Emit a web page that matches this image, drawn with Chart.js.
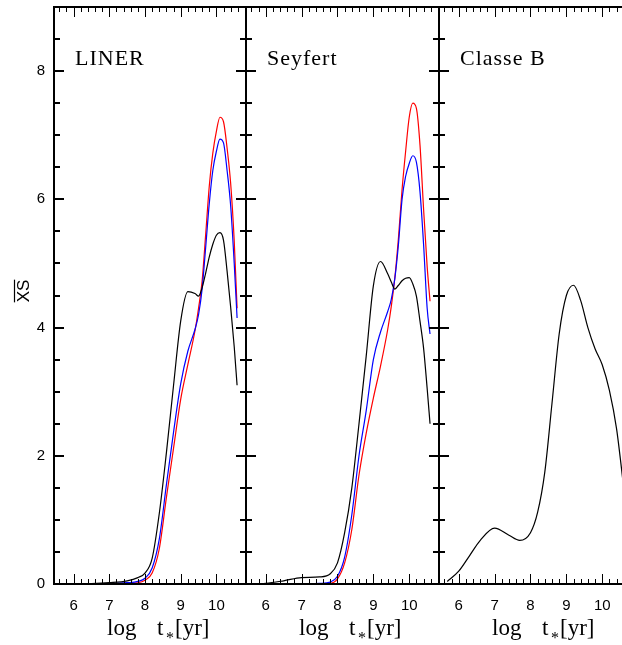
<!DOCTYPE html>
<html>
<head>
<meta charset="utf-8">
<title>xs vs log t</title>
<script src="https://cdn.jsdelivr.net/npm/chart.js@4.4.1/dist/chart.umd.min.js"></script>
<style>
  html, body { margin: 0; padding: 0; background: #fff; }
  body { width: 622px; height: 645px; position: relative; overflow: hidden; }
  .panel { position: absolute; top: 0; height: 645px; }
</style>
</head>
<body>
<div class="panel" style="left:0;width:250px"><canvas id="panelLiner"></canvas></div>
<div class="panel" style="left:242px;width:201px"><canvas id="panelSeyfert"></canvas></div>
<div class="panel" style="left:435px;width:201px"><canvas id="panelClasseB"></canvas></div>

<script>
// x values (log age) shared by LINER and Seyfert curves
const ageGrid = [5.5, 6, 6.5, 7, 7.5, 7.8, 8, 8.2, 8.4, 8.6, 8.8, 9, 9.2, 9.4, 9.5, 9.6, 9.7, 9.8, 9.9, 10, 10.1, 10.2, 10.3, 10.4, 10.5, 10.58];

// LINER panel
const linerBlack = [0, 0, 0.005, 0.02, 0.05, 0.1, 0.17, 0.4, 1.1, 2.05, 3.1, 4.1, 4.56, 4.53, 4.49, 4.62, 4.85, 5.1, 5.3, 5.44, 5.48, 5.36, 4.88, 4.32, 3.7, 3.1];
const linerBlue  = [0, 0, 0, 0.005, 0.02, 0.04, 0.09, 0.25, 0.7, 1.55, 2.37, 3.12, 3.63, 3.97, 4.2, 4.6, 5.25, 5.93, 6.45, 6.75, 6.94, 6.88, 6.45, 5.9, 5.0, 4.15];
const linerRed   = [0, 0, 0, 0.003, 0.01, 0.02, 0.06, 0.17, 0.55, 1.35, 2.12, 2.88, 3.42, 3.95, 4.3, 4.72, 5.45, 6.2, 6.72, 7.06, 7.28, 7.21, 6.8, 6.25, 5.35, 4.3];

// Seyfert panel
const seyfertBlack = [0, 0.01, 0.05, 0.1, 0.11, 0.16, 0.33, 0.8, 1.5, 2.5, 3.55, 4.65, 5.03, 4.84, 4.71, 4.6, 4.66, 4.73, 4.77, 4.78, 4.68, 4.49, 4.1, 3.68, 3.05, 2.5];
const seyfertBlue  = [0, 0, 0, 0, 0.01, 0.03, 0.12, 0.42, 1.08, 2.0, 2.7, 3.5, 3.93, 4.25, 4.44, 4.77, 5.3, 6.0, 6.36, 6.56, 6.68, 6.58, 6.12, 5.3, 4.3, 3.9];
const seyfertRed   = [0, 0, 0, 0, 0.005, 0.01, 0.08, 0.33, 0.85, 1.7, 2.35, 2.9, 3.4, 3.97, 4.33, 4.78, 5.4, 6.15, 6.75, 7.28, 7.5, 7.42, 6.85, 5.85, 4.95, 4.41];

// Classe B panel has its own sampling
const classeBAge = [5.68, 6, 6.3, 6.6, 7, 7.4, 7.7, 8, 8.2, 8.4, 8.6, 8.8, 9, 9.2, 9.4, 9.6, 9.8, 10, 10.2, 10.4, 10.6];
const classeBBlack = [0.04, 0.2, 0.44, 0.68, 0.87, 0.76, 0.68, 0.8, 1.12, 1.75, 2.82, 3.9, 4.5, 4.66, 4.42, 4.0, 3.67, 3.42, 3.02, 2.42, 1.5];

// axes
const xMin = 5.45, xMax = 10.83;
const yMin = 0, yMax = 9;
const xTickLabels = [6, 7, 8, 9, 10];
const yTickLabels = [0, 2, 4, 6, 8];

const tickFont = { family: "'Liberation Sans', Arial, sans-serif", size: 15 };
const serif = "'Liberation Serif', 'DejaVu Serif', serif";

function points(xs, ys) {
    return xs.map((x, i) => ({ x: x, y: ys[i] }));
}

function line(xs, ys, color) {
    return {
        data: points(xs, ys),
        borderColor: color,
        borderWidth: 1.2,
        pointRadius: 0,
        fill: false,
        cubicInterpolationMode: 'monotone'
    };
}

// box around the plot area plus inward pointing ticks on all four sides
const framePlugin = {
    id: 'frame',
    afterDatasetsDraw(chart) {
        const { ctx, chartArea: a, scales: { x, y } } = chart;
        ctx.save();
        ctx.strokeStyle = '#000';

        ctx.lineWidth = 1;
        ctx.beginPath();
        for (let i = Math.ceil(xMin * 5); i <= Math.floor(xMax * 5); i++) {
            const len = i % 5 === 0 ? 10 : 5;
            const px = Math.round(x.getPixelForValue(i / 5)) + 0.5;
            ctx.moveTo(px, a.bottom); ctx.lineTo(px, a.bottom - len);
            ctx.moveTo(px, a.top); ctx.lineTo(px, a.top + len);
        }
        ctx.stroke();

        ctx.lineWidth = 2;
        ctx.beginPath();
        for (let i = 1; i < yMax * 2; i++) {
            const len = i % 4 === 0 ? 10 : 6;
            const py = Math.round(y.getPixelForValue(i / 2));
            ctx.moveTo(a.left, py); ctx.lineTo(a.left + len, py);
            ctx.moveTo(a.right, py); ctx.lineTo(a.right - len, py);
        }
        ctx.stroke();

        ctx.lineWidth = 2;
        ctx.strokeRect(a.left, a.top, a.right - a.left, a.bottom - a.top);
        ctx.restore();
    }
};

// panel name inside the box and the "log t*[yr]" title under the axis
const labelPlugin = {
    id: 'labels',
    afterDraw(chart, args, opts) {
        const { ctx, chartArea: a } = chart;
        ctx.save();
        ctx.fillStyle = '#000';
        ctx.textBaseline = 'alphabetic';
        ctx.textAlign = 'left';

        ctx.font = '22px ' + serif;
        ctx.letterSpacing = '1px';
        ctx.fillText(opts.name, a.left + 21, 65);
        ctx.letterSpacing = '0px';

        const x0 = a.left + 53;
        ctx.font = '23px ' + serif;
        ctx.fillText('log', x0, 635);
        ctx.fillText('t', x0 + 50, 635);
        ctx.font = '16px ' + serif;
        ctx.fillText('*', x0 + 59, 643);
        ctx.font = '23px ' + serif;
        ctx.fillText('[yr]', x0 + 68, 635);

        if (opts.yTitle) {
            ctx.translate(29, 291);
            ctx.rotate(-Math.PI / 2);
            ctx.font = "17px 'Liberation Sans', Arial, sans-serif";
            ctx.textAlign = 'center';
            ctx.fillText(opts.yTitle, 0, 0);
            const w = ctx.measureText(opts.yTitle).width;
            ctx.lineWidth = 1.2;
            ctx.beginPath();
            ctx.moveTo(-w / 2, -14.5);
            ctx.lineTo(w / 2, -14.5);
            ctx.stroke();
        }
        ctx.restore();
    }
};

function makePanel(id, name, datasets, showY) {
    const ctx = document.getElementById(id).getContext('2d');
    return new Chart(ctx, {
        type: 'line',
        data: { datasets: datasets },
        plugins: [framePlugin, labelPlugin],
        options: {
            responsive: true,
            maintainAspectRatio: false,
            animation: false,
            layout: { padding: { left: showY ? 0 : 4, right: 4, top: 7, bottom: 0 } },
            plugins: {
                legend: { display: false },
                tooltip: { enabled: false },
                labels: { name: name, yTitle: showY ? 'XS' : null }
            },
            scales: {
                x: {
                    type: 'linear',
                    min: xMin,
                    max: xMax,
                    grid: { display: false, drawTicks: false },
                    border: { display: false },
                    afterBuildTicks: s => { s.ticks = xTickLabels.map(v => ({ value: v })); },
                    afterFit: s => { s.height = 61; s.paddingLeft = 0; s.paddingRight = 0; },
                    ticks: { color: '#000', font: tickFont, padding: 13, maxRotation: 0 }
                },
                y: {
                    display: showY,
                    min: yMin,
                    max: yMax,
                    grid: { display: false, drawTicks: false },
                    border: { display: false },
                    afterBuildTicks: s => { s.ticks = yTickLabels.map(v => ({ value: v })); },
                    afterFit: s => {
                        s.width = showY ? 54 : 0;
                        s.paddingTop = 0;
                        s.paddingBottom = 0;
                    },
                    ticks: { color: '#000', font: tickFont, padding: 9 }
                }
            }
        }
    });
}

makePanel('panelLiner', 'LINER', [
    line(ageGrid, linerBlack, '#000000'),
    line(ageGrid, linerBlue, '#0000ff'),
    line(ageGrid, linerRed, '#ff0000')
], true);

makePanel('panelSeyfert', 'Seyfert', [
    line(ageGrid, seyfertBlack, '#000000'),
    line(ageGrid, seyfertBlue, '#0000ff'),
    line(ageGrid, seyfertRed, '#ff0000')
], false);

makePanel('panelClasseB', 'Classe B', [
    line(classeBAge, classeBBlack, '#000000')
], false);
</script>
</body>
</html>
